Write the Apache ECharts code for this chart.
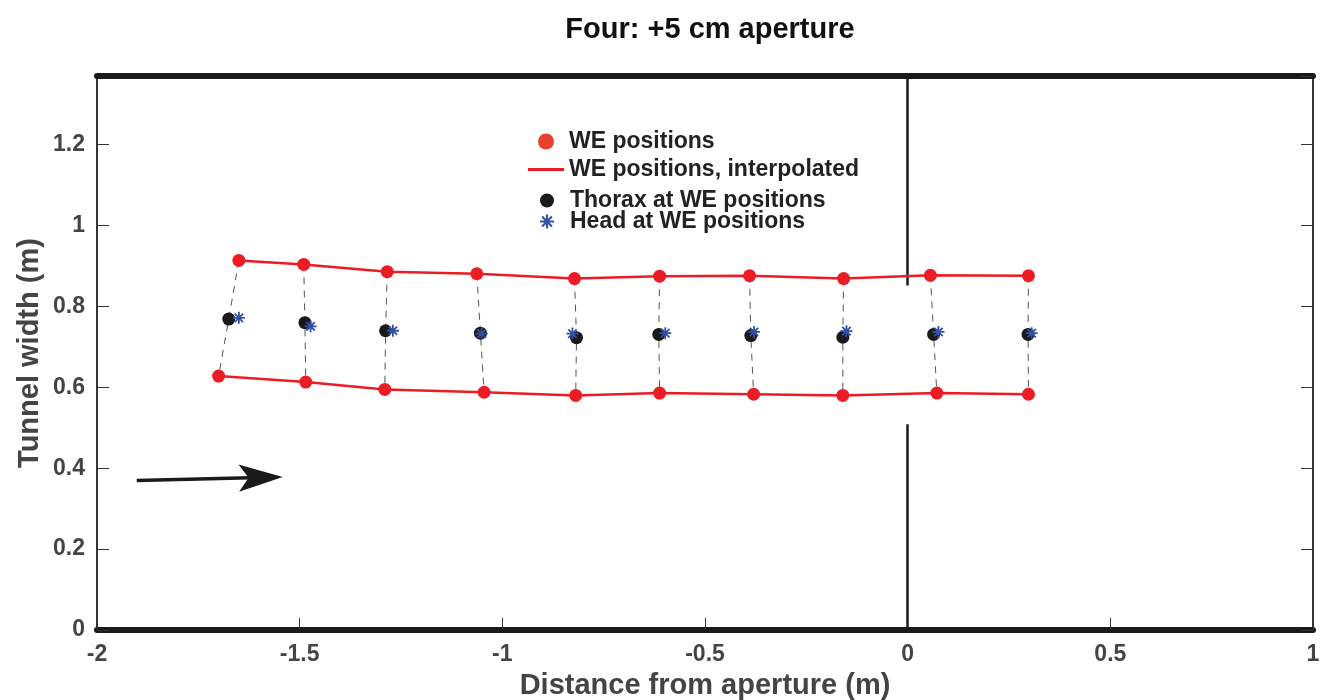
<!DOCTYPE html>
<html>
<head>
<meta charset="utf-8">
<title>Four: +5 cm aperture</title>
<script src="https://cdn.jsdelivr.net/npm/echarts@6/dist/echarts.min.js"></script>
<style>
  html, body { margin: 0; padding: 0; background: #fff; }
  #chart { width: 1327px; height: 700px; }
</style>
</head>
<body>
<div id="chart"></div>
<script>
// Wing edge (WE) positions, upper and lower edge of the tunnel path [x, y] in metres
const weUpper = [
    [-1.650, 0.914], [-1.490, 0.904], [-1.284, 0.886], [-1.063, 0.881], [-0.822, 0.869],
    [-0.612, 0.875], [-0.390, 0.876], [-0.158, 0.869], [0.056, 0.877], [0.298, 0.876]
];
const weLower = [
    [-1.700, 0.628], [-1.485, 0.613], [-1.290, 0.595], [-1.045, 0.588], [-0.819, 0.580],
    [-0.612, 0.586], [-0.380, 0.583], [-0.160, 0.580], [0.072, 0.586], [0.298, 0.583]
];
const thorax = [
    [-1.675, 0.769], [-1.487, 0.760], [-1.288, 0.740], [-1.054, 0.734], [-0.817, 0.723],
    [-0.614, 0.731], [-0.387, 0.728], [-0.160, 0.724], [0.064, 0.731], [0.297, 0.731]
];
const head = [
    [-1.650, 0.772], [-1.473, 0.751], [-1.270, 0.740], [-1.051, 0.733], [-0.827, 0.733],
    [-0.598, 0.734], [-0.379, 0.737], [-0.151, 0.739], [0.076, 0.737], [0.306, 0.734]
];

// Aperture walls at x = 0 (gap between 0.509 and 0.852 m)
const apertureX = 0;
const apertureWalls = [[0, 0.509], [0.852, 1.37]];

// Flight direction arrow (end = centre of the arrow head)
const arrowStart = [-1.902, 0.370];
const arrowEnd = [-1.596, 0.377];

const xTicks = { min: -2, max: 1, step: 0.5 };
const yTicks = { min: 0, max: 1.37, step: 0.2 };

const RED = '#ec1c24';
const BLUE = '#3350a8';
const BLACK = '#1a1a1a';
const TEXT = '#444';
const FONT = '"Liberation Sans", Arial, sans-serif';

// 8-armed asterisk built from four bars
const ASTERISK = 'path://M-1,-0.15L1,-0.15L1,0.15L-1,0.15Z' +
    'M-0.15,-1L0.15,-1L0.15,1L-0.15,1Z' +
    'M-0.594,-0.806L0.806,0.594L0.594,0.806L-0.806,-0.594Z' +
    'M0.594,-0.806L0.806,-0.594L-0.594,0.806L-0.806,0.594Z';
// plain line legend icon (corner points keep the box 36x16)
const LINE_ICON = 'path://M0,0L0,0ZM36,16L36,16ZM0,6.6L36,6.6L36,9.4L0,9.4Z';
// slim arrow head pointing up, padded to a square box
const ARROW_HEAD = 'path://M-1,-1L-1,-1ZM1,1L1,1ZM0,-1L0.62,1L0,0.55L-0.62,1Z';

function initializeChart() {
    const chart = echarts.init(document.getElementById('chart'));

    // dashed connectors: upper WE -> thorax -> lower WE
    const connectors = weUpper.map((p, i) => ({ coords: [p, thorax[i], weLower[i]] }));
    const walls = apertureWalls.map(w => ({ coords: [[apertureX, w[0]], [apertureX, w[1]]] }));

    const axisNameStyle = { color: TEXT, fontSize: 29, fontWeight: 'bold', fontFamily: FONT };
    const axisLabelStyle = { color: TEXT, fontSize: 23, fontWeight: 'bold', fontFamily: FONT };
    const legendText = { color: '#222', fontSize: 23, fontWeight: 'bold', fontFamily: FONT };

    const option = {
        backgroundColor: '#fff',
        animation: false,
        title: {
            text: 'Four: +5 cm aperture',
            left: 705,
            textAlign: 'center',
            top: 10,
            textStyle: { color: '#111', fontSize: 29, fontWeight: 'bold', fontFamily: FONT }
        },
        legend: [{
            orient: 'vertical',
            left: 523,
            top: 125,
            itemWidth: 36,
            itemHeight: 16,
            itemGap: 5,
            textStyle: legendText,
            data: [
                { name: 'WE positions', icon: 'circle', itemStyle: { color: '#e8412c' } },
                { name: 'WE positions, interpolated', icon: LINE_ICON }
            ]
        }, {
            orient: 'vertical',
            left: 535,
            top: 184,
            itemWidth: 36,
            itemHeight: 14,
            itemGap: -2,
            textStyle: legendText,
            data: [
                { name: 'Thorax at WE positions', icon: 'circle' },
                { name: 'Head at WE positions', icon: ASTERISK }
            ]
        }],
        grid: { left: 97, right: 14, top: 76, bottom: 70, outerBoundsMode: 'none' },
        xAxis: [{
            type: 'value',
            position: 'bottom',
            min: xTicks.min,
            max: xTicks.max,
            interval: xTicks.step,
            name: 'Distance from aperture (m)',
            nameLocation: 'middle',
            nameGap: 41,
            nameTextStyle: axisNameStyle,
            axisLine: { onZero: false, lineStyle: { color: BLACK, width: 6 } },
            axisTick: { inside: true, length: 12, lineStyle: { color: '#333', width: 1 } },
            axisLabel: Object.assign({ margin: 13 }, axisLabelStyle),
            splitLine: { show: false }
        }, {
            type: 'value',
            position: 'top',
            min: xTicks.min,
            max: xTicks.max,
            interval: xTicks.step,
            axisLine: { onZero: false, lineStyle: { color: BLACK, width: 6 } },
            axisTick: { show: false },
            axisLabel: { show: false },
            splitLine: { show: false }
        }],
        yAxis: [{
            type: 'value',
            position: 'left',
            min: yTicks.min,
            max: yTicks.max,
            interval: yTicks.step,
            name: 'Tunnel width (m)',
            nameLocation: 'middle',
            nameGap: 53,
            nameMoveOverlap: false,
            nameTextStyle: axisNameStyle,
            axisLine: { show: true, onZero: false, lineStyle: { color: '#333', width: 2 } },
            axisTick: { inside: true, length: 12, lineStyle: { color: '#333', width: 1 } },
            axisLabel: Object.assign({ margin: 12, showMaxLabel: false }, axisLabelStyle),
            splitLine: { show: false }
        }, {
            type: 'value',
            position: 'right',
            min: yTicks.min,
            max: yTicks.max,
            interval: yTicks.step,
            axisLine: { show: true, onZero: false, lineStyle: { color: '#333', width: 2 } },
            axisTick: { inside: true, length: 12, lineStyle: { color: '#333', width: 1 } },
            axisLabel: { show: false },
            splitLine: { show: false }
        }],
        series: [
            {
                type: 'lines',
                coordinateSystem: 'cartesian2d',
                polyline: true,
                silent: true,
                z: 1,
                lineStyle: { color: '#555', width: 1, type: [7, 6], opacity: 1 },
                data: connectors
            },
            {
                type: 'lines',
                coordinateSystem: 'cartesian2d',
                silent: true,
                z: 1,
                lineStyle: { color: BLACK, width: 2.5, opacity: 1 },
                data: walls
            },
            {
                type: 'lines',
                coordinateSystem: 'cartesian2d',
                silent: true,
                z: 1,
                symbol: ['none', ARROW_HEAD],
                symbolSize: 44,
                lineStyle: { color: BLACK, width: 3.5, opacity: 1 },
                data: [{ coords: [arrowStart, arrowEnd] }]
            },
            {
                name: 'WE positions, interpolated',
                type: 'line',
                data: weUpper,
                symbol: 'none',
                z: 2,
                lineStyle: { color: RED, width: 2.5 },
                itemStyle: { color: RED }
            },
            {
                name: 'WE positions, interpolated',
                type: 'line',
                data: weLower,
                symbol: 'none',
                z: 2,
                lineStyle: { color: RED, width: 2.5 },
                itemStyle: { color: RED }
            },
            {
                name: 'WE positions',
                type: 'scatter',
                data: weUpper.concat(weLower),
                symbol: 'circle',
                symbolSize: 13,
                z: 3,
                itemStyle: { color: RED, opacity: 1 }
            },
            {
                name: 'Thorax at WE positions',
                type: 'scatter',
                data: thorax,
                symbol: 'circle',
                symbolSize: 13,
                z: 4,
                itemStyle: { color: BLACK, opacity: 1 }
            },
            {
                name: 'Head at WE positions',
                type: 'scatter',
                data: head,
                symbol: ASTERISK,
                symbolSize: 12,
                z: 5,
                itemStyle: { color: BLUE, opacity: 1 }
            }
        ]
    };

    chart.setOption(option);
}

document.addEventListener('DOMContentLoaded', initializeChart);
</script>
</body>
</html>
